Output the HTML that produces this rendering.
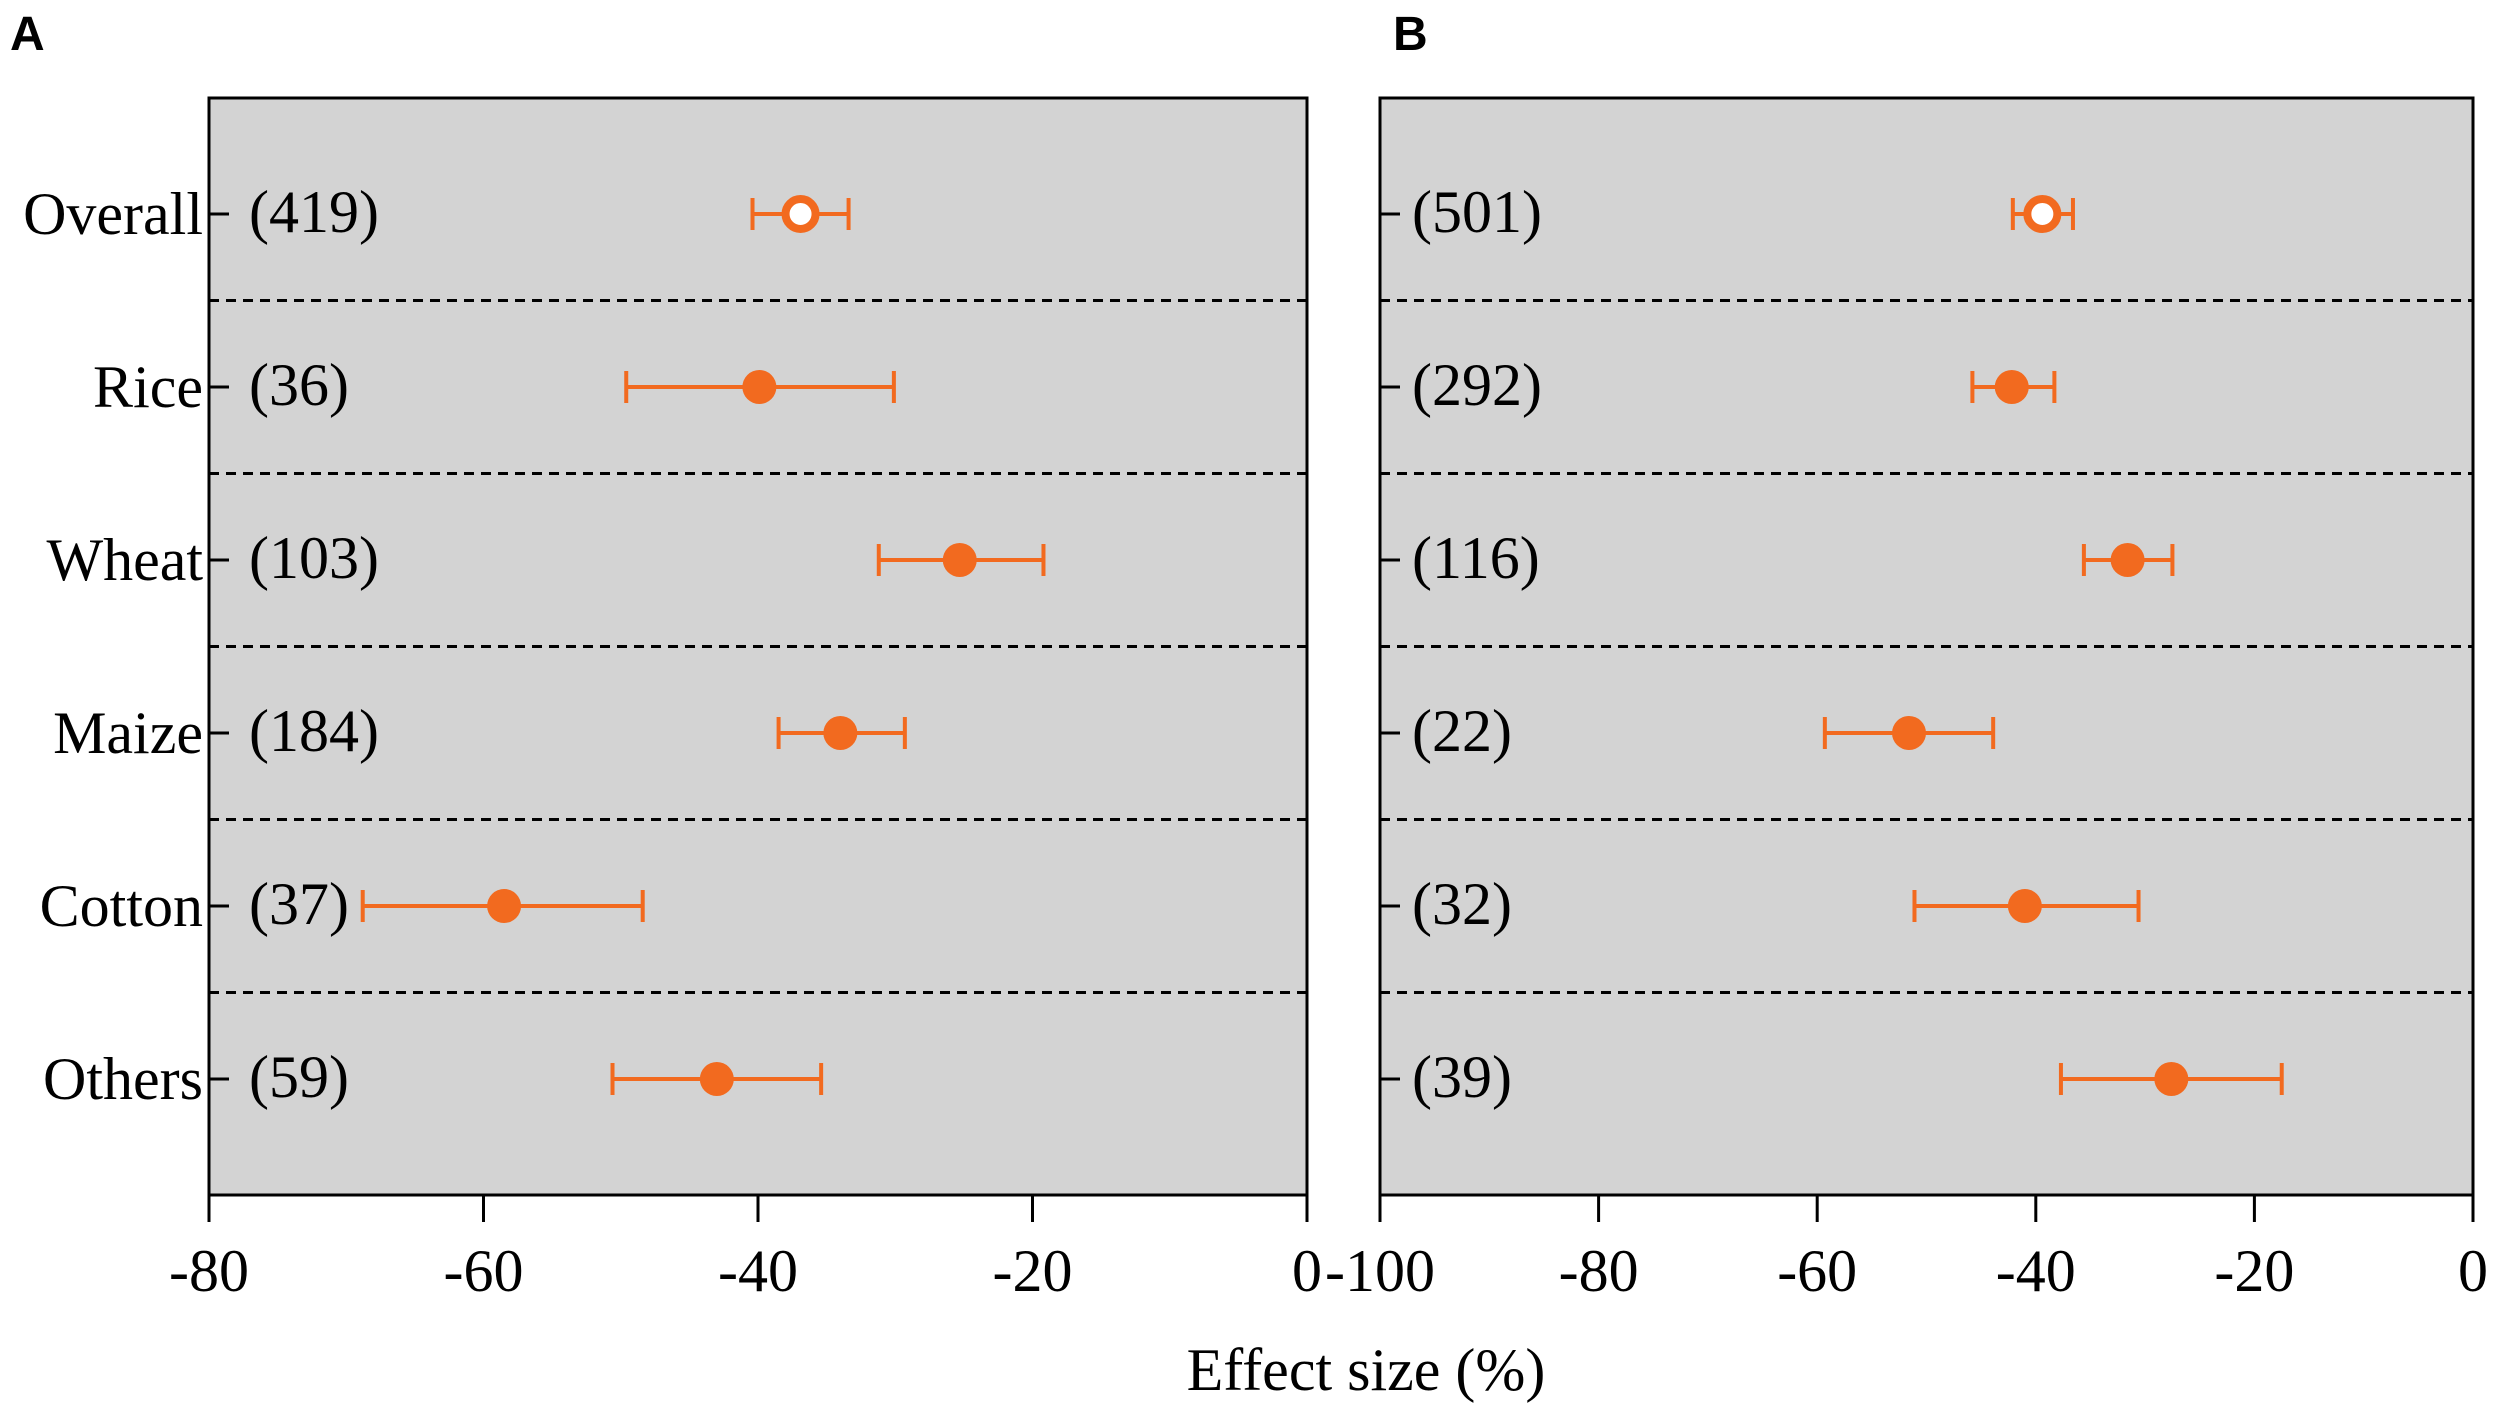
<!DOCTYPE html>
<html><head><meta charset="utf-8"><style>
body{margin:0;background:#fff}
svg text{font-family:"Liberation Serif",serif}
</style></head><body>
<svg id="chart" width="2500" height="1411" viewBox="0 0 2500 1411">
<text x="10" y="50" style="font-family:'Liberation Sans',sans-serif;font-weight:bold" font-size="48">A</text>
<text x="1393" y="50" style="font-family:'Liberation Sans',sans-serif;font-weight:bold" font-size="48">B</text>
<text x="1366" y="1390" font-size="60" text-anchor="middle">Effect size (%)</text>
</svg>
<script>
const categories = ["Overall","Rice","Wheat","Maize","Cotton","Others"];
const countsA = ["(419)","(36)","(103)","(184)","(37)","(59)"];
const meanA = [-36.9,-39.9,-25.3,-34.0,-58.5,-43.0];
const lowA = [-40.4,-49.6,-31.2,-38.5,-68.8,-50.6];
const highA = [-33.4,-30.1,-19.2,-29.3,-48.4,-35.4];
const ticksA = [-80,-60,-40,-20,0];
const countsB = ["(501)","(292)","(116)","(22)","(32)","(39)"];
const meanB = [-39.4,-42.2,-31.6,-51.6,-41.0,-27.6];
const lowB = [-42.1,-45.8,-35.6,-59.3,-51.1,-37.7];
const highB = [-36.6,-38.3,-27.5,-43.9,-30.6,-17.5];
const ticksB = [-100,-80,-60,-40,-20,0];

const NS="http://www.w3.org/2000/svg";
const svg=document.getElementById('chart');
const OR="#f26a1f";
function mk(tag,attrs,parent){const e=document.createElementNS(NS,tag);for(const k in attrs)e.setAttribute(k,attrs[k]);(parent||svg).appendChild(e);return e;}
const yTop=98,yBot=1195,rowY0=214,rowStep=173;
function yPos(i){return rowY0+i*rowStep;}

function panel(id,x0,x1,dmin,dmax,counts,mean,low,high,ticks,showCats,cOff){
  const g=mk('g',{});
  
  
  const xs=v=>x0+(v-dmin)/(dmax-dmin)*(x1-x0);
  const bg=mk('rect',{x:x0,y:yTop,width:x1-x0,height:yBot-yTop,fill:"#d3d3d3",stroke:"#000","stroke-width":3},g);
  
  
  for(let i=0;i<categories.length-1;i++){
    const yy=(yPos(i)+yPos(i+1))/2;
    const l=mk('line',{x1:x0,x2:x1,y1:yy,y2:yy,stroke:"#000","stroke-width":3,"stroke-dasharray":"10,7"},g);
    
    
  }
  ticks.forEach(t=>{
    const x=xs(t);
    const tl=mk('line',{x1:x,x2:x,y1:yBot,y2:yBot+27,stroke:"#000","stroke-width":3},g);
    
    
    const tx=mk('text',{x:x,y:1291,"font-size":60,"text-anchor":"middle"},g);
    tx.textContent=String(t);
    
    
  });
  categories.forEach((c,i)=>{
    const y=yPos(i);
    const yt=mk('line',{x1:x0,x2:x0+20,y1:y,y2:y,stroke:"#000","stroke-width":3},g);
    
    
    if(showCats){
      const ct=mk('text',{x:x0-6,y:y+20,"font-size":60,"text-anchor":"end"},g);
      ct.textContent=c;
      
      
    }
    const nt=mk('text',{x:x0+cOff,y:y+18,"font-size":60},g);
    nt.textContent=counts[i];
    
    
    const eb=mk('path',{d:`M${xs(low[i])},${y}H${xs(high[i])}M${xs(low[i])},${y-16}V${y+16}M${xs(high[i])},${y-16}V${y+16}`,stroke:OR,"stroke-width":4,fill:"none"},g);
    
    
    const open=i===0;
    const pt=mk('circle',{cx:xs(mean[i]),cy:y,r:open?15:17,fill:open?"#fff":OR,stroke:OR,"stroke-width":open?8:0},g);
    
    
  });
}
panel('a',209,1307,-80,0,countsA,meanA,lowA,highA,ticksA,true,40);
panel('b',1380,2473,-100,0,countsB,meanB,lowB,highB,ticksB,false,32);
</script>
</body></html>
